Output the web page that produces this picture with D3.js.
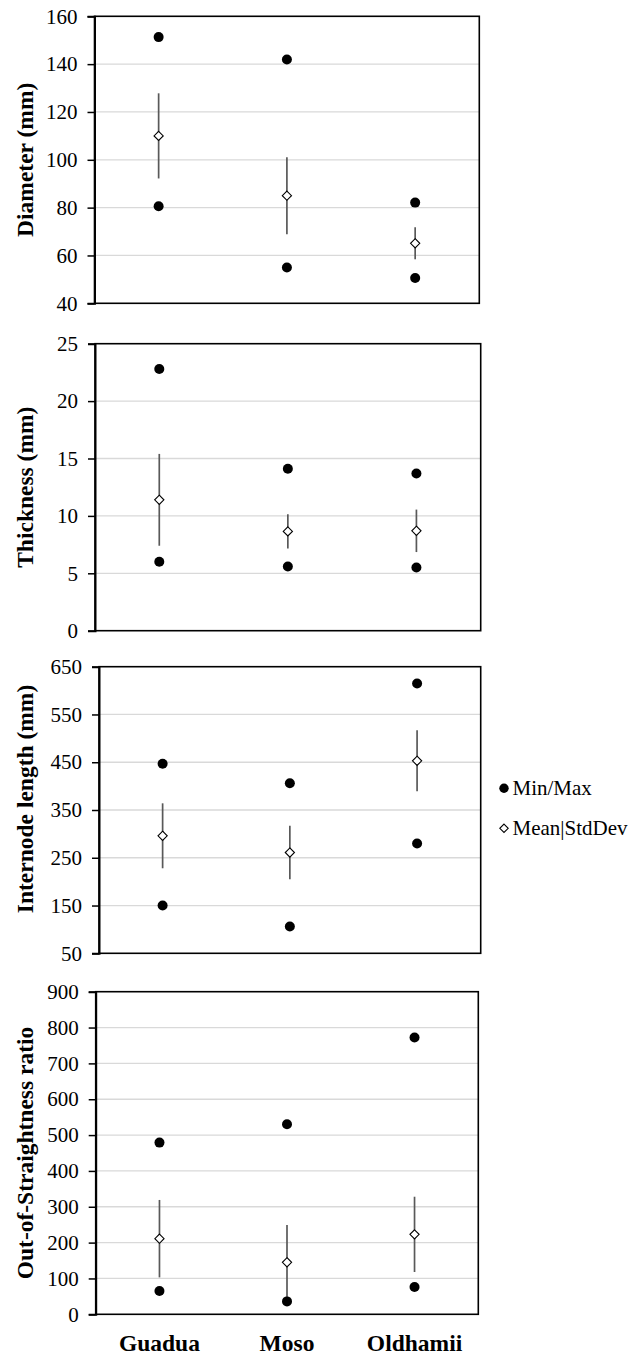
<!DOCTYPE html>
<html>
<head>
<meta charset="utf-8">
<script src="https://cdn.jsdelivr.net/npm/d3@7"></script>
<style>
  html, body { margin: 0; padding: 0; background: #fff; }
  svg { display: block; }
  svg text { font-family: "Liberation Serif", "Times New Roman", Times, Tinos, "DejaVu Serif", serif !important; fill: #000; }
</style>
</head>
<body>
<svg id="chart" width="635" height="1358"></svg>
<script>
// Bamboo species compared in every panel
const categories = ["Guadua", "Moso", "Oldhamii"];

// Diameter (mm)
const diameterMin  = [80.6, 55.0, 50.6];
const diameterMax  = [151.3, 141.9, 82.1];
const diameterMean = [110.0, 85.0, 65.1];
const diameterSD   = [17.8, 16.1, 6.7];
const diameterTicks = [40, 60, 80, 100, 120, 140, 160];

// Wall thickness (mm)
const thicknessMin  = [6.0, 5.6, 5.5];
const thicknessMax  = [22.8, 14.1, 13.7];
const thicknessMean = [11.4, 8.65, 8.7];
const thicknessSD   = [4.0, 1.5, 1.85];
const thicknessTicks = [0, 5, 10, 15, 20, 25];

// Internode length (mm)
const internodeMin  = [150, 106, 280];
const internodeMax  = [447, 406, 615];
const internodeMean = [296, 261, 453];
const internodeSD   = [68, 56, 64];
const internodeTicks = [50, 150, 250, 350, 450, 550, 650];

// Out-of-straightness ratio
const straightMin  = [65, 36, 76];
const straightMax  = [479, 530, 772];
const straightMean = [211, 145, 223];
const straightSD   = [108, 104, 105];
const straightTicks = [0, 100, 200, 300, 400, 500, 600, 700, 800, 900];

const legendLabels = ["Min/Max", "Mean|StdDev"];

const SERIF = '"Liberation Serif", "Times New Roman", Times, Tinos, "DejaVu Serif", serif';

const panels = [
  { title: "Diameter (mm)", min: diameterMin, max: diameterMax, mean: diameterMean, sd: diameterSD, ticks: diameterTicks,
    box: { left: 94.5, right: 479.3, top: 16.3, bottom: 303.3 }, titleShift: 0 },
  { title: "Thickness (mm)", min: thicknessMin, max: thicknessMax, mean: thicknessMean, sd: thicknessSD, ticks: thicknessTicks,
    box: { left: 95, right: 480.7, top: 343.7, bottom: 630.7 }, titleShift: 0 },
  { title: "Internode length (mm)", min: internodeMin, max: internodeMax, mean: internodeMean, sd: internodeSD, ticks: internodeTicks,
    box: { left: 99, right: 480.7, top: 666.7, bottom: 953.3 }, titleShift: -11 },
  { title: "Out-of-Straightness ratio", min: straightMin, max: straightMax, mean: straightMean, sd: straightSD, ticks: straightTicks,
    box: { left: 95.7, right: 478.3, top: 991.7, bottom: 1314.3 }, titleShift: 0 }
];

const svg = d3.select("#chart").style("font-family", SERIF);
const diamond = (x, y, s) => `M${x},${y - s}L${x + s},${y}L${x},${y + s}L${x - s},${y}Z`;

panels.forEach((p, i) => {
  const b = p.box;
  const x = d3.scaleBand().domain(categories).range([b.left, b.right]);
  const y = d3.scaleLinear().domain(d3.extent(p.ticks)).range([b.bottom, b.top]);
  const cx = c => x(c) + x.bandwidth() / 2;
  const g = svg.append("g");

  // horizontal gridlines
  g.selectAll("line.grid").data(p.ticks.slice(1, -1)).join("line")
    .attr("x1", b.left).attr("x2", b.right)
    .attr("y1", d => y(d)).attr("y2", d => y(d))
    .attr("stroke", "#d9d9d9").attr("stroke-width", 1.3);

  // plot frame
  g.append("rect")
    .attr("x", b.left).attr("y", b.top)
    .attr("width", b.right - b.left).attr("height", b.bottom - b.top)
    .attr("fill", "none").attr("stroke", "#000").attr("stroke-width", 1.6);

  // value axis
  const axis = d3.axisLeft(y).tickValues(p.ticks).tickSize(7).tickPadding(10).tickFormat(d3.format("d"));
  const ax = g.append("g").attr("transform", `translate(${b.left},0)`).call(axis)
    .attr("font-family", null).attr("font-size", null);
  ax.select(".domain").attr("stroke", "#000").attr("stroke-width", 2);
  ax.selectAll(".tick line").attr("stroke", "#000").attr("stroke-width", 1.5);
  ax.selectAll(".tick text")
    .style("font-family", SERIF).attr("font-size", 21).attr("fill", "#262626");

  // axis title
  g.append("text")
    .attr("transform", `translate(32.5,${(b.top + b.bottom) / 2 + p.titleShift}) rotate(-90)`)
    .attr("text-anchor", "middle")
    .style("font-family", SERIF)
    .attr("font-size", 23.5).attr("font-weight", "bold")
    .text(p.title);

  const rows = categories.map((c, k) => ({ c, min: p.min[k], max: p.max[k], mean: p.mean[k], sd: p.sd[k] }));

  // standard deviation bars
  g.selectAll("line.sd").data(rows).join("line")
    .attr("x1", d => cx(d.c)).attr("x2", d => cx(d.c))
    .attr("y1", d => y(d.mean + d.sd)).attr("y2", d => y(d.mean - d.sd))
    .attr("stroke", "#595959").attr("stroke-width", 1.7);

  // minimum and maximum markers
  const extremes = rows.flatMap(d => [{ c: d.c, v: d.min }, { c: d.c, v: d.max }]);
  g.selectAll("circle.mm").data(extremes).join("circle")
    .attr("cx", d => cx(d.c)).attr("cy", d => y(d.v)).attr("r", 5)
    .attr("fill", "#000");

  // mean markers
  g.selectAll("path.mean").data(rows).join("path")
    .attr("d", d => diamond(cx(d.c), y(d.mean), 4.6))
    .attr("fill", "#fff").attr("stroke", "#000").attr("stroke-width", 1.1);

  // category labels under the last panel
  if (i === panels.length - 1) {
    g.selectAll("text.cat").data(categories).join("text")
      .attr("x", d => cx(d)).attr("y", 1350.5)
      .attr("text-anchor", "middle")
      .style("font-family", SERIF)
      .attr("font-size", 23.5).attr("font-weight", "bold")
      .text(d => d);
  }
});

// legend
const lg = svg.append("g");
lg.append("circle").attr("cx", 504).attr("cy", 788.3).attr("r", 4.7).attr("fill", "#000");
lg.append("path").attr("d", diamond(504, 828.3, 4.2)).attr("fill", "#fff").attr("stroke", "#000").attr("stroke-width", 1.1);
lg.selectAll("text").data(legendLabels).join("text")
  .attr("x", 512.5).attr("y", (d, k) => 795 + k * 40)
  .style("font-family", SERIF)
  .attr("font-size", 21)
  .text(d => d);
</script>
</body>
</html>
